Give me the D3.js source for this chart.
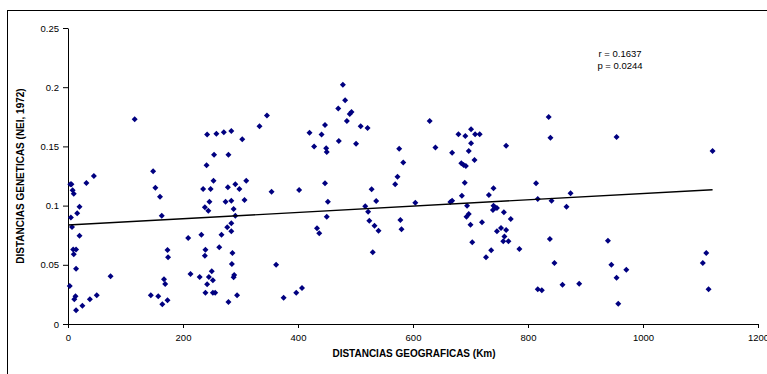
<!DOCTYPE html>
<html>
<head>
<meta charset="utf-8">
<script src="https://cdn.jsdelivr.net/npm/d3@7"></script>
<style>
  body { margin: 0; background: #fff; }
  svg { display: block; font-family: "Liberation Sans", Arial, sans-serif; }
</style>
</head>
<body>
<figure id="scatter" style="margin:0"></figure>
<script>
// distances in km
const distKm = [
  4, 6, 8, 10, 5, 20, 16, 7, 20, 9, 14, 10, 14, 3, 13, 11, 14, 25, 38, 50, 32, 45, 74,
  116, 148, 152, 160, 163, 173, 174, 167, 169, 144, 157, 164, 173,
  242, 258, 271, 284, 303, 333, 346, 254, 279, 241, 253, 235, 248, 278, 291, 298, 310,
  246, 274, 284, 307, 238, 244, 288, 291, 284, 277, 284, 267, 232, 209, 263, 239, 238,
  286, 285, 362, 354, 402, 213, 229, 250, 245, 252, 289, 288, 242, 239, 252, 256, 294,
  279, 375, 397, 407,
  420, 478, 482, 470, 490, 493, 485, 447, 441, 509, 521, 428, 471, 501, 449, 450, 447,
  452, 450, 433, 437, 528, 536, 517, 522, 524, 533, 540, 530, 576, 583, 573, 569, 604,
  578, 580, 629, 639,
  836, 839, 679, 691, 701, 708, 716, 701, 697, 668, 707, 684, 688, 692, 762, 690, 685,
  668, 665, 694, 732, 740, 740, 739, 743, 746, 693, 697, 700, 720, 758, 770, 753, 746,
  762, 759, 757, 766, 703, 736, 727, 785, 814, 817, 841, 838, 846, 817, 824,
  954, 874, 867, 939, 945, 971, 954, 860, 889, 957,
  1121, 1110, 1104, 1114
];
// Nei (1972) genetic distances, same order
const neiDist = [
  0.118, 0.118, 0.113, 0.110, 0.090, 0.099, 0.0935, 0.082, 0.0746, 0.063, 0.063, 0.059, 0.0467, 0.032, 0.0234, 0.0209, 0.0116, 0.0155, 0.0209, 0.0242, 0.119, 0.125, 0.0403,
  0.173, 0.129, 0.115, 0.1075, 0.0915, 0.0625, 0.0563, 0.0377, 0.0338, 0.0242, 0.0234, 0.0166, 0.020,
  0.160, 0.1607, 0.162, 0.163, 0.156, 0.167, 0.176, 0.143, 0.143, 0.134, 0.121, 0.114, 0.114, 0.1155, 0.118, 0.114, 0.121,
  0.1033, 0.1033, 0.104, 0.1047, 0.0986, 0.0957, 0.0971, 0.0915, 0.085, 0.0817, 0.0783, 0.0754, 0.0754, 0.0726, 0.0648, 0.0628, 0.0577,
  0.060, 0.0507, 0.0501, 0.1117, 0.1132, 0.0422, 0.0397, 0.0445, 0.0397, 0.0369, 0.0414, 0.0394, 0.0335, 0.0264, 0.0264, 0.0264, 0.0242,
  0.0186, 0.0222, 0.0264, 0.0304,
  0.1616, 0.2021, 0.189, 0.182, 0.1774, 0.179, 0.1714, 0.168, 0.160, 0.167, 0.1655, 0.150, 0.1546, 0.1523, 0.1484, 0.1453, 0.1188,
  0.1033, 0.0906, 0.0808, 0.0766, 0.1138, 0.1039, 0.0994, 0.0949, 0.0873, 0.083, 0.0788, 0.0605, 0.148, 0.1363, 0.1244, 0.118, 0.1025,
  0.0878, 0.080, 0.1714, 0.149,
  0.1748, 0.1574, 0.1602, 0.1588, 0.1644, 0.1602, 0.1602, 0.1526, 0.1461, 0.1447, 0.1385, 0.1357, 0.1343, 0.1334, 0.1506, 0.1193, 0.1084,
  0.1041, 0.103, 0.0999, 0.109, 0.1146, 0.0999, 0.0963, 0.0985, 0.098, 0.0906, 0.0929, 0.0839, 0.0859, 0.0943, 0.0887, 0.0811, 0.0783,
  0.0794, 0.0738, 0.0698, 0.0698, 0.069, 0.0622, 0.0563, 0.0633, 0.1188, 0.1056, 0.1041, 0.0718, 0.0515, 0.0293, 0.0285,
  0.158, 0.1104, 0.099, 0.0704, 0.0501, 0.0459, 0.0391, 0.0332, 0.034, 0.0172,
  0.1461, 0.060, 0.0515, 0.0293
];

const xTicks = [0, 200, 400, 600, 800, 1000, 1200];
const yTicks = [0, 0.05, 0.1, 0.15, 0.2, 0.25];

// trend line
const trendIntercept = 0.0836;
const trendSlope = 0.0000266;
const statLines = ["r = 0.1637", "p = 0.0244"];

const width = 767, height = 374;
const margin = { top: 28, right: 9, bottom: 50, left: 68 };

const svg = d3.select("figure#scatter")
  .append("svg")
  .attr("width", width)
  .attr("height", height);

// chart frame
svg.append("rect")
  .attr("x", 7.5).attr("y", 10.5)
  .attr("width", 800).attr("height", 400)
  .attr("fill", "none").attr("stroke", "#000").attr("stroke-width", 1);

const x = d3.scaleLinear().domain([0, 1200]).range([margin.left, width - margin.right]);
const y = d3.scaleLinear().domain([0, 0.25]).range([height - margin.bottom, margin.top]);

const xAxis = d3.axisBottom(x).tickValues(xTicks).tickFormat(d3.format("d")).tickSize(4).tickSizeOuter(0);
const yAxis = d3.axisLeft(y).tickValues(yTicks).tickFormat(d => d === 0 ? "0" : d3.format(".2~f")(d)).tickSize(5).tickSizeOuter(0);

const gx = svg.append("g")
  .attr("transform", "translate(0," + (height - margin.bottom) + ")")
  .call(xAxis);
const gy = svg.append("g")
  .attr("transform", "translate(" + margin.left + ",0)")
  .call(yAxis);

[gx, gy].forEach(g => {
  g.selectAll("path.domain").attr("stroke", "#000");
  g.selectAll(".tick line").attr("stroke", "#000");
  g.selectAll("text").attr("fill", "#000").style("font-size", "9.5px").style("font-family", "Liberation Sans, Arial, sans-serif");
});
gx.selectAll("text").attr("dy", "1.1em");
gy.selectAll("text").attr("x", -9);

// axis titles
svg.append("text")
  .attr("x", 414).attr("y", 357)
  .attr("text-anchor", "middle")
  .style("font-size", "10px").style("font-weight", "bold")
  .text("DISTANCIAS GEOGRAFICAS (Km)");

svg.append("text")
  .attr("transform", "translate(24,176) rotate(-90)")
  .attr("text-anchor", "middle")
  .style("font-size", "10px").style("font-weight", "bold")
  .text("DISTANCIAS GENETICAS (NEI, 1972)");

// points
const pts = distKm.map((d, i) => ({ km: d, nei: neiDist[i] }));
svg.append("g")
  .selectAll("path")
  .data(pts)
  .join("path")
  .attr("transform", d => "translate(" + x(d.km) + "," + y(d.nei) + ")")
  .attr("d", "M0,-3L3,0L0,3L-3,0Z")
  .attr("fill", "#000080");

// trend line
const xMax = d3.max(distKm);
svg.append("line")
  .attr("x1", x(0)).attr("y1", y(trendIntercept))
  .attr("x2", x(xMax)).attr("y2", y(trendIntercept + trendSlope * xMax))
  .attr("stroke", "#000").attr("stroke-width", 1.4);

// stats
svg.append("g")
  .selectAll("text")
  .data(statLines)
  .join("text")
  .attr("x", 620)
  .attr("y", (d, i) => 57 + i * 12)
  .attr("text-anchor", "middle")
  .style("font-size", "9.5px")
  .text(d => d);
</script>
</body>
</html>
